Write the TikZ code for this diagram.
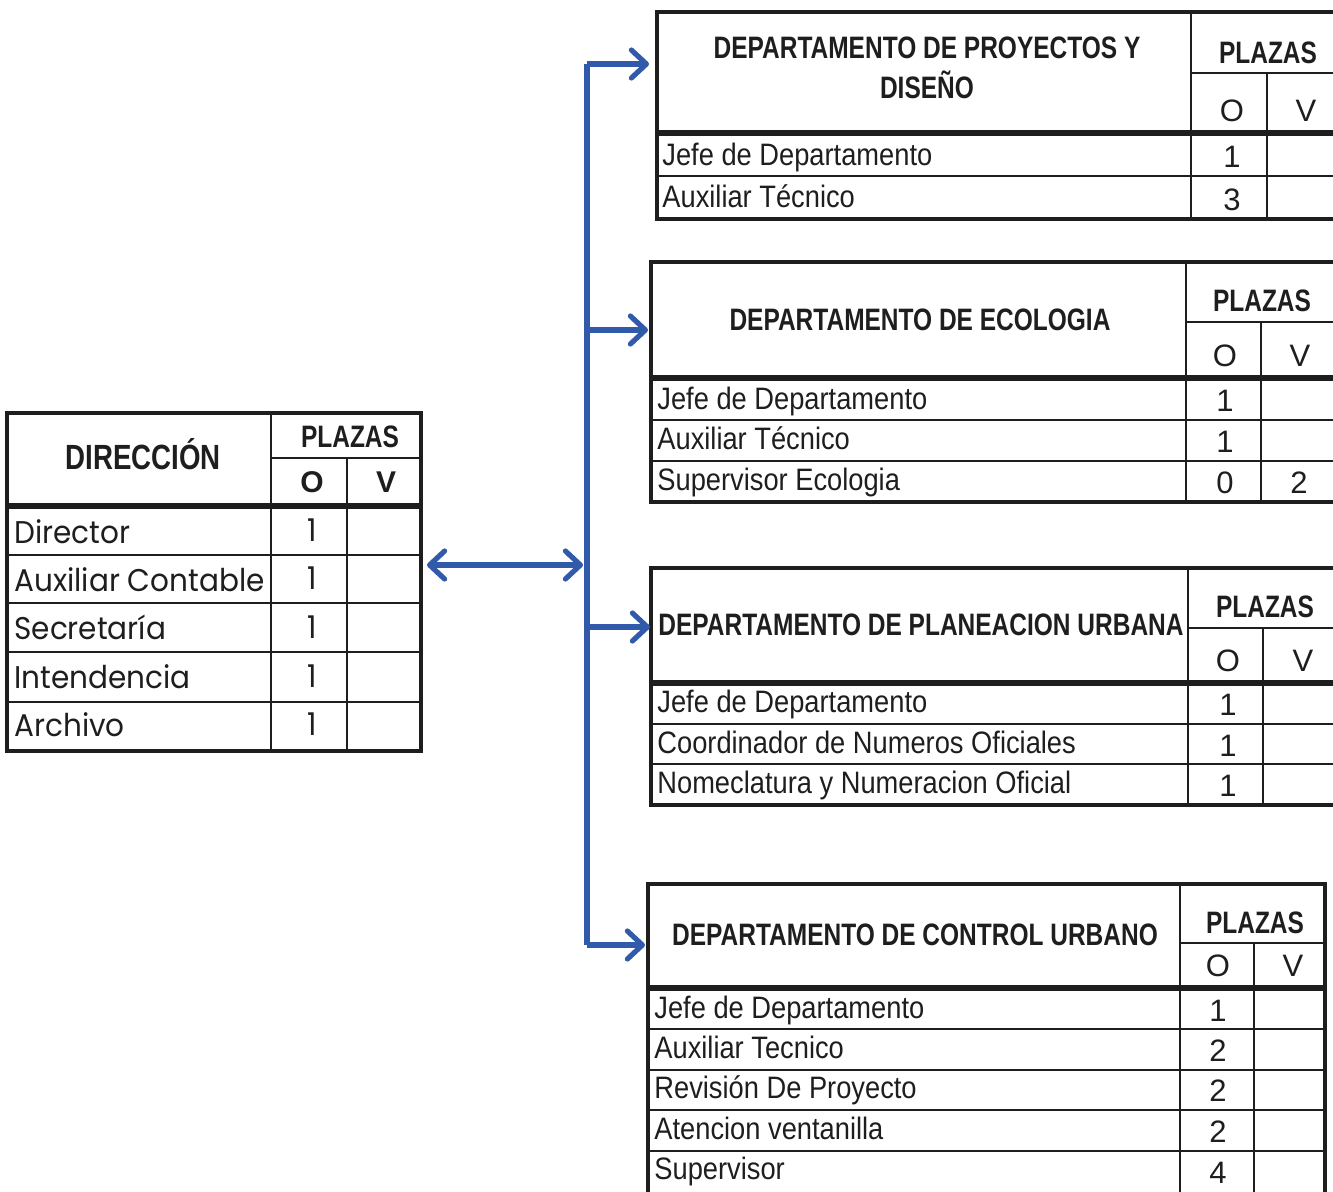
\documentclass[tikz,border=0pt]{standalone}
\usepackage{fontspec}
\usepackage{tikz}
\usetikzlibrary{arrows.meta}
\setmainfont{Liberation Sans}
\newfontfamily\headfont[FakeStretch=0.79]{Liberation Sans}
\newfontfamily\rowfont[FakeStretch=0.88]{Liberation Sans}
\newfontfamily\gothfont[FakeStretch=0.94]{Poppins}
\definecolor{ink}{RGB}{30,30,30}
\definecolor{linkblue}{RGB}{50,90,170}

\begin{document}
\begin{tikzpicture}[x=0.5pt,y=-0.5pt,
    >={Straight Barb[length=7.5pt,width=14pt,line cap=round,line join=round]},
    frame/.style={draw=ink, line width=2pt},
    rule/.style={draw=ink, line width=1.3pt},
    headrule/.style={draw=ink, line width=2.8pt},
    link/.style={draw=linkblue, line width=2.6pt, ->},
    bus/.style={draw=linkblue, line width=2.6pt},
    dept/.style={text=ink, align=center, font=\fontsize{15.5}{20}\selectfont\headfont\bfseries},
    plazas/.style={text=ink, text height=11.1pt, text depth=0pt, font=\fontsize{15.5}{18}\selectfont\headfont\bfseries},
    ov/.style={text=ink, text height=11.1pt, text depth=0pt, font=\fontsize{15.5}{18}\selectfont},
    job/.style={text=ink, anchor=west, text height=11.1pt, text depth=0pt, font=\fontsize{15.5}{18}\selectfont\rowfont},
    num/.style={text=ink, text height=11.1pt, text depth=0pt, font=\fontsize{15.5}{18}\selectfont},
    gjob/.style={text=ink, anchor=west, text height=11pt, text depth=0pt, font=\fontsize{15.7}{18}\selectfont\gothfont},
    gnum/.style={text=ink, text height=11pt, text depth=0pt, font=\fontsize{15.7}{18}\selectfont\gothfont}]
    \tikzstyle{every node}+=[inner sep=0pt]
    \useasboundingbox (0,0) rectangle (1333,1191);

    % direccion
    \draw [frame] (7,413) rectangle (421,751);
    \draw [rule] (271,413) -- (271,751);
    \draw [rule] (271,458) -- (421,458);
    \draw [rule] (347,458) -- (347,751);
    \draw [headrule] (7,506) -- (421,506);
    \draw [rule] (7,555) -- (421,555);
    \draw [rule] (7,603) -- (421,603);
    \draw [rule] (7,652) -- (421,652);
    \draw [rule] (7,702) -- (421,702);
    \node [dept, text height=12.5pt, text depth=0pt, font=\fontsize{17.5}{20}\selectfont\headfont\bfseries] (dir-title) at (143,457) {DIRECCIÓN};
    \node [plazas] (dir-plazas) at (350,436) {PLAZAS};
    \node [ov, font=\fontsize{15}{18}\selectfont\bfseries] (dir-o) at (312,481) {O};
    \node [ov, font=\fontsize{15}{18}\selectfont\bfseries] (dir-v) at (386,481) {V};
    \node [gjob] (dir-r1) at (14,532) {Director};
    \node [gjob] (dir-r2) at (14,580) {Auxiliar Contable};
    \node [gjob] (dir-r3) at (14,628) {Secretaría};
    \node [gjob] (dir-r4) at (14,677) {Intendencia};
    \node [gjob] (dir-r5) at (14,725) {Archivo};
    \node [gnum] (dir-n1) at (312,530) {1};
    \node [gnum] (dir-n2) at (312,578) {1};
    \node [gnum] (dir-n3) at (312,627) {1};
    \node [gnum] (dir-n4) at (312,676) {1};
    \node [gnum] (dir-n5) at (312,724) {1};

    % proyectos y diseno
    \draw [frame] (657,12) rectangle (1345,219);
    \draw [rule] (1191,12) -- (1191,219);
    \draw [rule] (1191,73) -- (1345,73);
    \draw [rule] (1267,73) -- (1267,219);
    \draw [headrule] (657,133) -- (1345,133);
    \draw [rule] (657,176) -- (1345,176);
    \node [dept] (pd-title) at (927,68) {DEPARTAMENTO DE PROYECTOS Y\\DISEÑO};
    \node [plazas] (pd-plazas) at (1268,52) {PLAZAS};
    \node [ov] (pd-o) at (1232,110) {O};
    \node [ov] (pd-v) at (1306,110) {V};
    \node [job] (pd-r1) at (662,154) {Jefe de Departamento};
    \node [job] (pd-r2) at (662,196) {Auxiliar Técnico};
    \node [num] (pd-n1) at (1232,156) {1};
    \node [num] (pd-n2) at (1232,199) {3};

    % ecologia
    \draw [frame] (651,262) rectangle (1345,502);
    \draw [rule] (1186,262) -- (1186,502);
    \draw [rule] (1186,322) -- (1345,322);
    \draw [rule] (1261,322) -- (1261,502);
    \draw [headrule] (651,378) -- (1345,378);
    \draw [rule] (651,420) -- (1345,420);
    \draw [rule] (651,461) -- (1345,461);
    \node [dept] (eco-title) at (920,320) {DEPARTAMENTO DE ECOLOGIA};
    \node [plazas] (eco-plazas) at (1262,300) {PLAZAS};
    \node [ov] (eco-o) at (1225,355) {O};
    \node [ov] (eco-v) at (1300,355) {V};
    \node [job] (eco-r1) at (657,398) {Jefe de Departamento};
    \node [job] (eco-r2) at (657,438) {Auxiliar Técnico};
    \node [job] (eco-r3) at (657,479) {Supervisor Ecologia};
    \node [num] (eco-n1) at (1225,400) {1};
    \node [num] (eco-n2) at (1225,441) {1};
    \node [num] (eco-n3) at (1225,482) {0};
    \node [num] (eco-n3v) at (1299,482) {2};

    % planeacion urbana
    \draw [frame] (651,568) rectangle (1345,805);
    \draw [rule] (1188,568) -- (1188,805);
    \draw [rule] (1188,628) -- (1345,628);
    \draw [rule] (1263,628) -- (1263,805);
    \draw [headrule] (651,683) -- (1345,683);
    \draw [rule] (651,724) -- (1345,724);
    \draw [rule] (651,764) -- (1345,764);
    \node [dept] (pu-title) at (921,625) {DEPARTAMENTO DE PLANEACION URBANA};
    \node [plazas] (pu-plazas) at (1265,606) {PLAZAS};
    \node [ov] (pu-o) at (1228,660) {O};
    \node [ov] (pu-v) at (1303,660) {V};
    \node [job] (pu-r1) at (657,701) {Jefe de Departamento};
    \node [job] (pu-r2) at (657,742) {Coordinador de Numeros Oficiales};
    \node [job] (pu-r3) at (657,782) {Nomeclatura y Numeracion Oficial};
    \node [num] (pu-n1) at (1228,704) {1};
    \node [num] (pu-n2) at (1228,745) {1};
    \node [num] (pu-n3) at (1228,785) {1};

    % control urbano
    \draw [frame] (648,884) rectangle (1325,1196);
    \draw [rule] (1180,884) -- (1180,1196);
    \draw [rule] (1180,943) -- (1325,943);
    \draw [rule] (1254,943) -- (1254,1196);
    \draw [headrule] (648,988) -- (1325,988);
    \draw [rule] (648,1029) -- (1325,1029);
    \draw [rule] (648,1070) -- (1325,1070);
    \draw [rule] (648,1110) -- (1325,1110);
    \draw [rule] (648,1151) -- (1325,1151);
    \node [dept] (cu-title) at (915,935) {DEPARTAMENTO DE CONTROL URBANO};
    \node [plazas] (cu-plazas) at (1255,922) {PLAZAS};
    \node [ov] (cu-o) at (1218,965) {O};
    \node [ov] (cu-v) at (1293,965) {V};
    \node [job] (cu-r1) at (654,1007) {Jefe de Departamento};
    \node [job] (cu-r2) at (654,1047) {Auxiliar Tecnico};
    \node [job] (cu-r3) at (654,1087) {Revisión De Proyecto};
    \node [job] (cu-r4) at (654,1128) {Atencion ventanilla};
    \node [job] (cu-r5) at (654,1168) {Supervisor};
    \node [num] (cu-n1) at (1218,1010) {1};
    \node [num] (cu-n2) at (1218,1050) {2};
    \node [num] (cu-n3) at (1218,1090) {2};
    \node [num] (cu-n4) at (1218,1131) {2};
    \node [num] (cu-n5) at (1218,1172) {4};

    % conectores
    \coordinate (dir-out) at (427,565);
    \coordinate (bus-mid) at (583,565);
    \coordinate (bus-a) at (587,64);
    \coordinate (bus-b) at (587,330);
    \coordinate (bus-c) at (587,627);
    \coordinate (bus-d) at (587,945);
    \coordinate (pd-in) at (649,64);
    \coordinate (eco-in) at (648,330);
    \coordinate (pu-in) at (650,627);
    \coordinate (cu-in) at (645,945);
    \draw [bus] (bus-a) -- (bus-d);
    \draw [link, <->] (dir-out) -- (bus-mid);
    \draw [link] (bus-a) -- (pd-in);
    \draw [link] (bus-b) -- (eco-in);
    \draw [link] (bus-c) -- (pu-in);
    \draw [link] (bus-d) -- (cu-in);
\end{tikzpicture}
\end{document}
